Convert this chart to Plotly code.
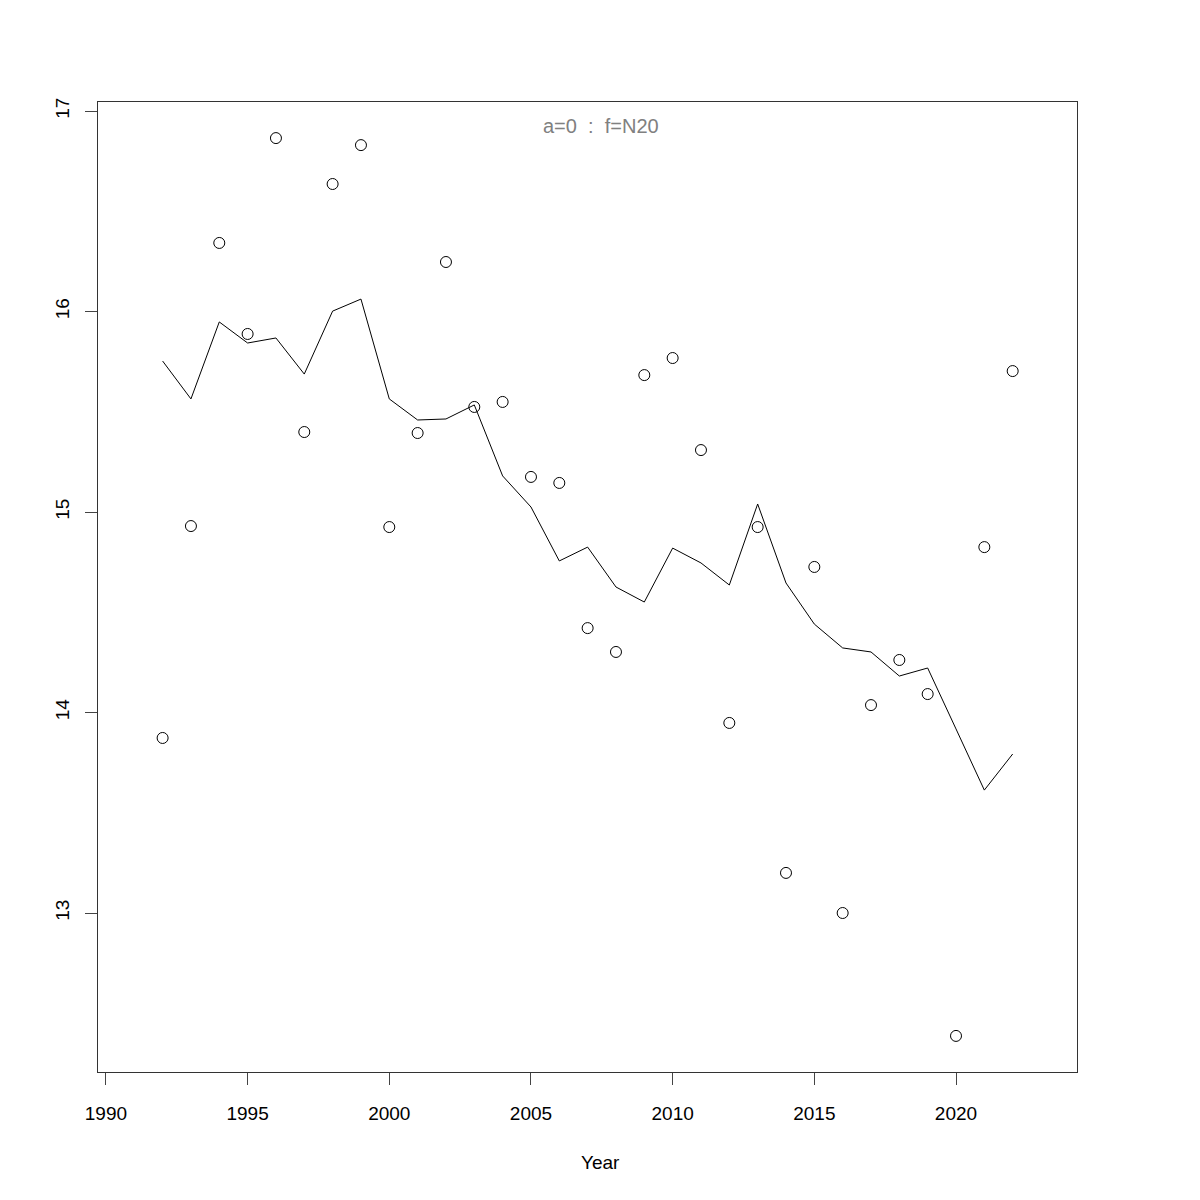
import plotly.graph_objects as go

years = list(range(1992, 2023))
observed = [13.873, 14.930, 16.342, 15.888, 16.865, 15.399, 16.636, 16.830, 14.925, 15.394,
            16.247, 15.524, 15.549, 15.175, 15.145, 14.421, 14.302, 15.683, 15.768, 15.309,
            13.948, 14.925, 13.200, 14.726, 13.000, 14.037, 14.262, 14.092, 12.387, 14.825,
            15.703]
fitted = [15.753, 15.564, 15.948, 15.843, 15.868, 15.688, 16.002, 16.062, 15.564, 15.459,
          15.464, 15.534, 15.180, 15.025, 14.756, 14.825, 14.626, 14.551, 14.820, 14.746,
          14.636, 15.040, 14.646, 14.441, 14.322, 14.302, 14.182, 14.222, 13.918, 13.613,
          13.793]
x_ticks = [1990, 1995, 2000, 2005, 2010, 2015, 2020]
y_ticks = [13, 14, 15, 16, 17]
title_text = "a=0\u00a0\u00a0:\u00a0\u00a0f=N20"
x_title = "Year"

fig = go.Figure()
fig.add_trace(go.Scatter(x=years, y=fitted, mode="lines",
                         line=dict(color="black", width=1), showlegend=False))
fig.add_trace(go.Scatter(x=years, y=observed, mode="markers",
                         marker=dict(symbol="circle-open", size=11, color="black",
                                     line=dict(width=1, color="black")),
                         showlegend=False))

font = dict(family="Liberation Sans, Arial, sans-serif", size=19, color="black")
fig.update_layout(
    width=1200, height=1200,
    margin=dict(l=90, r=131, t=94, b=136),
    paper_bgcolor="white", plot_bgcolor="white",
    font=font,
    xaxis=dict(range=[1989.72, 2024.27], tickvals=x_ticks, ticks="outside", ticklen=12,
               tickcolor="#444", showgrid=False, zeroline=False, showline=True,
               linecolor="#333", linewidth=1, mirror=True, ticklabelstandoff=12),
    yaxis=dict(range=[12.207, 17.045], tickvals=y_ticks, ticks="outside", ticklen=12,
               tickcolor="#444", showgrid=False, zeroline=False, showline=True,
               linecolor="#333", linewidth=1, mirror=True, tickangle=-90,
               ticklabelstandoff=8),
    annotations=[
        dict(text=title_text, xref="paper", yref="paper", x=0.5138, y=0.975,
             xanchor="center", yanchor="middle", showarrow=False,
             font=dict(family="Liberation Sans, Arial, sans-serif", size=20,
                       color="#808080")),
        dict(text=x_title, xref="paper", yref="paper", x=0.5128, y=0,
             xanchor="center", yanchor="middle", yshift=-90, showarrow=False,
             font=font),
    ],
)
fig.write_html("out.html")
